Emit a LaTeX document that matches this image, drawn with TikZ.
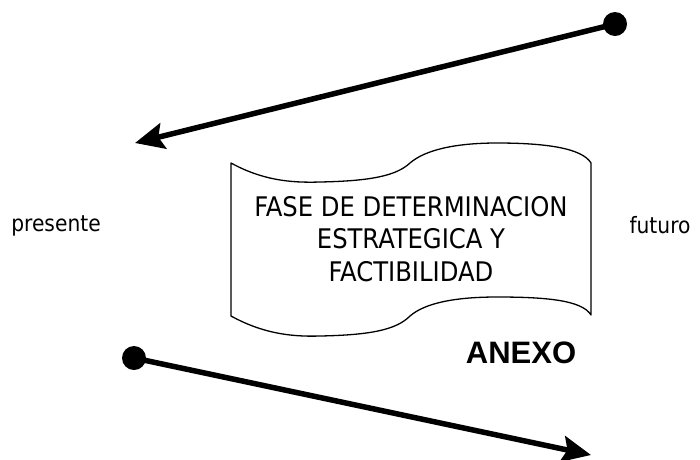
\documentclass[tikz,border=0pt]{standalone}
\usepackage{fontspec}
\setmainfont{DejaVu Sans Condensed}
\newfontfamily\boldsans{Liberation Sans}
\usetikzlibrary{arrows.meta}
\begin{document}
\begin{tikzpicture}[x=1pt,y=-1pt,
  dotnode/.style={circle,fill=black,inner sep=0pt,minimum size=24pt},
  bigarrow/.style={line width=5.5pt,-{Stealth[length=29pt,width=26pt,inset=5pt]}},
  lbl/.style={inner sep=0pt,font=\fontsize{22.5}{26}\selectfont}]
\useasboundingbox[fill=white] (0,0) rectangle (700,459);
% tape shape
\draw[line width=1.3pt,line join=round]
  (231,163) .. controls (262,180) and (290,183) .. (320,182)
  .. controls (370,181) and (396,176) .. (410,163)
  .. controls (425,150) and (455,143) .. (497,143)
  .. controls (545,143) and (582,148) .. (591,163)
  -- (591,315)
  .. controls (582,300) and (545,297) .. (497,297)
  .. controls (455,297) and (425,303) .. (410,316)
  .. controls (396,330) and (370,335) .. (320,336)
  .. controls (290,337) and (262,333) .. (231,316)
  -- cycle;
\node[inner sep=0pt,align=center,font=\fontsize{27}{32.5}\selectfont] (txt) at (411,239)
  {FASE DE DETERMINACION\\ESTRATEGICA Y\\FACTIBILIDAD};
\node[lbl] (pres) at (56,226) {presente};
\node[lbl] (fut) at (660,225) {futuro};
\node[inner sep=0pt,font=\boldsans\bfseries\fontsize{31}{36}\selectfont] (anexo) at (521,353) {ANEXO};
% arrows
\node[dotnode] (d1) at (615,24) {};
\coordinate (t1) at (135,143);
\node[dotnode] (d2) at (134,358) {};
\coordinate (t2) at (591,455);
\draw[bigarrow] (d1.center) -- (t1);
\draw[bigarrow] (d2.center) -- (t2);
\end{tikzpicture}
\end{document}
